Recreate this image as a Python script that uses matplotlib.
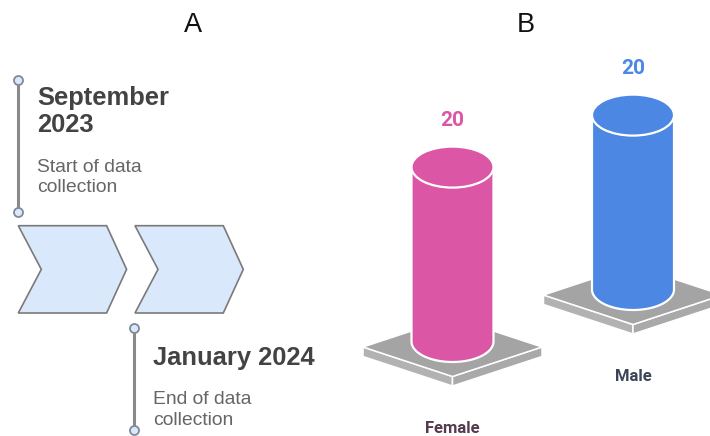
import numpy as np
import matplotlib
matplotlib.use("Agg")
import matplotlib.pyplot as plt
from matplotlib.patches import Polygon, Ellipse

# ── data ──────────────────────────────────────────────────────────────
genders = ["Female", "Male"]
counts = [20, 20]
bar_colors = ["#dc56a6", "#4b87e3"]
label_colors = ["#553a50", "#3c4556"]

milestone_dates = ["September\n2023", "January 2024"]
milestone_notes = ["Start of data\ncollection", "End of data\ncollection"]
panel_letters = ["A", "B"]

# ── layout (pixel space, y grows downward) ────────────────────────────
W, H = 710, 436
PX_PER_UNIT = 8.72          # cylinder height per count
CYL_RX, CYL_RY = 41.0, 20.5
PLATE_W, PLATE_H, PLATE_T = 89.5, 29.5, 9.5
plate_centers = [(452.5, 347.0), (633.0, 295.0)]

TEXT_FONT = ["Liberation Sans", "DejaVu Sans"]
CHART_FONT = ["Roboto", "DejaVu Sans"]

fig = plt.figure(figsize=(W / 100, H / 100), dpi=100)
ax = fig.add_axes([0, 0, 1, 1])
ax.set_xlim(0, W)
ax.set_ylim(H, 0)
ax.axis("off")

# panel letters
for letter, x in zip(panel_letters, [193.5, 526.0]):
    ax.text(x, 32.5, letter, ha="center", va="baseline", fontsize=19.5,
            family=TEXT_FONT, color="#111111")

# ── panel A: timeline ─────────────────────────────────────────────────
def chevron(x0, y0, width, height, tip, notch):
    mid = y0 + height / 2
    pts = [(x0, y0), (x0 + width, y0), (x0 + width + tip, mid),
           (x0 + width, y0 + height), (x0, y0 + height), (x0 + notch, mid)]
    ax.add_patch(Polygon(pts, closed=True, facecolor="#dae8fc",
                         edgecolor="#7a7a7a", linewidth=1.2, zorder=2))


for x0 in [18.3, 135.0]:
    chevron(x0, 225.7, 88.3, 87.3, 20.0, 23.0)


def milestone(x, y_top, y_bot, date, note, date_base, note_base):
    ax.plot([x, x], [y_top, y_bot], color="#8a8a8a", linewidth=2.2,
            solid_capstyle="butt", zorder=2)
    ax.plot([x, x], [y_top, y_bot], linestyle="none", marker="o",
            markersize=6.5, markerfacecolor="#dae8fc",
            markeredgecolor="#7f8a99", markeredgewidth=1.3, zorder=3)
    tx = x + 19.5
    for i, line in enumerate(date.split("\n")):
        ax.text(tx, date_base + i * 26.5, line, ha="left", va="baseline",
                fontsize=18.4, fontweight="bold", family=TEXT_FONT,
                color="#434343")
    for i, line in enumerate(note.split("\n")):
        ax.text(tx, note_base + i * 20.3, line, ha="left", va="baseline",
                fontsize=13.9, family=TEXT_FONT, color="#666666")


milestone(17.5, 80.0, 211.7, milestone_dates[0], milestone_notes[0], 105.0, 171.5)
milestone(133.8, 328.3, 430.0, milestone_dates[1], milestone_notes[1], 365.0, 404.3)

# ── panel B: cylinders on plates ──────────────────────────────────────
def plate(cx, cy):
    top = [(cx - PLATE_W, cy), (cx, cy - PLATE_H), (cx + PLATE_W, cy), (cx, cy + PLATE_H)]
    left = [(cx - PLATE_W, cy), (cx, cy + PLATE_H), (cx, cy + PLATE_H + PLATE_T),
            (cx - PLATE_W, cy + PLATE_T)]
    right = [(cx, cy + PLATE_H), (cx + PLATE_W, cy), (cx + PLATE_W, cy + PLATE_T),
             (cx, cy + PLATE_H + PLATE_T)]
    for pts, fc in [(left, "#b2b2b2"), (right, "#a9a9a9"), (top, "#a4a4a4")]:
        ax.add_patch(Polygon(pts, closed=True, facecolor=fc, edgecolor="white",
                             linewidth=1.1, joinstyle="round", zorder=2))


def cylinder(cx, bot_cy, value, color):
    top_cy = bot_cy - value * PX_PER_UNIT
    # lower half of the base ellipse, left to right
    t = np.linspace(np.pi, 0, 60)
    arc = np.column_stack([cx + CYL_RX * np.cos(t), bot_cy + CYL_RY * np.sin(t)])
    body = np.vstack([[cx - CYL_RX, top_cy], arc, [cx + CYL_RX, top_cy]])
    ax.add_patch(Polygon(body, closed=True, facecolor=color, edgecolor="white",
                         linewidth=1.6, zorder=3))
    ax.add_patch(Ellipse((cx, top_cy), 2 * CYL_RX, 2 * CYL_RY, facecolor=color,
                         edgecolor="white", linewidth=1.6, zorder=4))
    return top_cy


for name, val, col, lcol, (pcx, pcy) in zip(genders, counts, bar_colors,
                                            label_colors, plate_centers):
    plate(pcx, pcy)
    top_cy = cylinder(pcx, pcy - 5.5, val, col)
    ax.text(pcx, top_cy - CYL_RY - 20.5, f"{val}", ha="center", va="baseline",
            fontsize=15, fontweight="bold", family=CHART_FONT, color=col)
    ax.text(pcx, pcy + PLATE_H + PLATE_T + 46.5, name, ha="center", va="baseline",
            fontsize=12, fontweight="bold", family=CHART_FONT, color=lcol)

fig.savefig("out.png", dpi=100, facecolor="white")
